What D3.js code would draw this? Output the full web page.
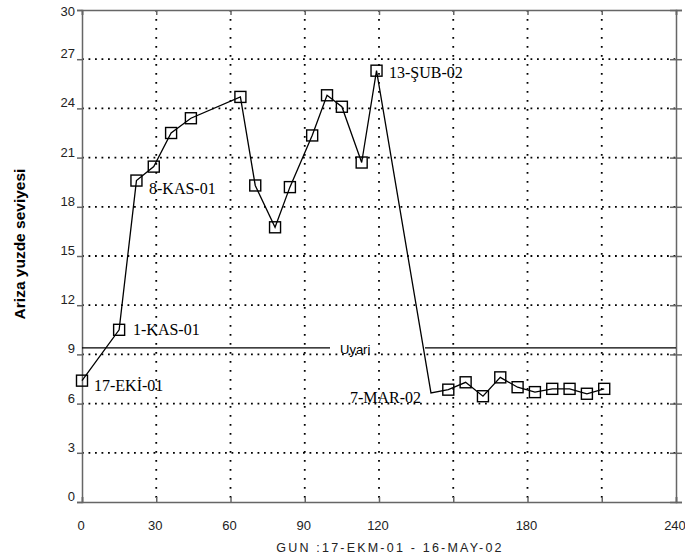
<!DOCTYPE html>
<html>
<head>
<meta charset="utf-8">
<script src="https://cdn.jsdelivr.net/npm/d3@7"></script>
<style>
  body { margin: 0; background: #fff; }
  svg { display: block; }
</style>
</head>
<body>
<script>
// gün (17-EKİ-01'den itibaren) ve arıza yüzdesi
const gunler = [0, 15, 22, 29, 36, 44, 64, 70, 78, 84, 93, 99, 105, 113, 119,
                141, 148, 155, 162, 169, 176, 183, 190, 197, 204, 211];
const degerler = [7.4, 10.5, 19.6, 20.45, 22.5, 23.4, 24.7, 19.3, 16.75, 19.2, 22.35, 24.8, 24.1, 20.7, 26.3,
                  6.65, 6.85, 7.3, 6.45, 7.6, 7.0, 6.7, 6.9, 6.9, 6.6, 6.9];
// işaretsiz noktalar
const isaretsiz = [141];
// notlar
const notGunleri = [0, 15, 22, 119, 141];
const notlar = ["17-EKİ-01", "1-KAS-01", "8-KAS-01", "13-ŞUB-02", "7-MAR-02"];
const uyariSeviyesi = 9.4;
const xTikler = [0, 30, 60, 90, 120, 150, 180, 210, 240];
const xEtiketler = ["0", "30", "60", "90", "120", "", "180", "", "240"];
const yTikler = d3.range(0, 31, 3);

const genislik = 685, yukseklik = 560;
const svg = d3.select('body')
  .append('svg')
  .attr('width', genislik)
  .attr('height', yukseklik);

const x = d3.scaleLinear().domain([0, 240]).range([82, 676]);
const y = d3.scaleLinear().domain([0, 30]).range([502, 10]);

// ızgara
svg.append('g')
  .selectAll('line')
  .data(yTikler.slice(1, -1))
  .join('line')
    .attr('x1', x(0)).attr('x2', x(240))
    .attr('y1', d => y(d)).attr('y2', d => y(d))
    .attr('stroke', '#000')
    .attr('stroke-width', 1.8)
    .attr('stroke-dasharray', '1.8,4.7');
svg.append('g')
  .selectAll('line')
  .data(xTikler.slice(1, -1))
  .join('line')
    .attr('x1', d => x(d)).attr('x2', d => x(d))
    .attr('y1', y(30)).attr('y2', y(0))
    .attr('stroke', '#000')
    .attr('stroke-width', 1.8)
    .attr('stroke-dasharray', '1.8,7.2');

// eksenler
const eksenSol = d3.axisLeft(y).tickValues(yTikler).tickSize(5).tickFormat('');
const eksenSag = d3.axisRight(y).tickValues(yTikler).tickSize(6).tickFormat('');
const eksenAlt = d3.axisBottom(x).tickValues(xTikler).tickSize(-5).tickFormat('');
const eksenUst = d3.axisTop(x).tickValues(xTikler).tickSize(-5).tickFormat('');

function boya(g) {
  g.selectAll('path, line').attr('stroke', '#666').attr('stroke-width', 1.5);
}
svg.append('g').attr('transform', `translate(${x(0)},0)`).call(eksenSol).call(boya);
svg.append('g').attr('transform', `translate(${x(240)},0)`).call(eksenSag).call(boya)
  .selectAll('.tick line').attr('x1', -6);
svg.append('g').attr('transform', `translate(0,${y(0)})`).call(eksenAlt).call(boya);
svg.append('g').attr('transform', `translate(0,${y(30)})`).call(eksenUst).call(boya);

// tik etiketleri
svg.append('g')
  .selectAll('text')
  .data(yTikler)
  .join('text')
    .attr('x', 75)
    .attr('y', d => Math.max(y(d) - 1, 16))
    .attr('text-anchor', 'end')
    .attr('font-family', 'Liberation Sans, Arial, sans-serif')
    .attr('font-size', 13)
    .attr('fill', '#222')
    .text(d => d);
svg.append('g')
  .selectAll('text')
  .data(xTikler)
  .join('text')
    .attr('x', d => x(d) - 1)
    .attr('y', 530)
    .attr('text-anchor', 'middle')
    .attr('font-family', 'Liberation Sans, Arial, sans-serif')
    .attr('font-size', 13)
    .attr('fill', '#222')
    .text((d, i) => xEtiketler[i]);

// uyarı çizgisi
svg.append('line')
  .attr('x1', x(0)).attr('x2', 330)
  .attr('y1', y(uyariSeviyesi)).attr('y2', y(uyariSeviyesi))
  .attr('stroke', '#000').attr('stroke-width', 1.2);
svg.append('line')
  .attr('x1', 425).attr('x2', x(240))
  .attr('y1', y(uyariSeviyesi)).attr('y2', y(uyariSeviyesi))
  .attr('stroke', '#000').attr('stroke-width', 1.2);
svg.append('text')
  .attr('x', 340)
  .attr('y', y(uyariSeviyesi) + 6)
  .attr('font-family', 'Liberation Sans, Arial, sans-serif')
  .attr('font-size', 13)
  .text('Uyari');

// veri çizgisi
const noktalar = gunler.map((g, i) => ({gun: g, deger: degerler[i]}));
const cizgi = d3.line().x(d => x(d.gun)).y(d => y(d.deger));
svg.append('path')
  .datum(noktalar)
  .attr('d', cizgi)
  .attr('fill', 'none')
  .attr('stroke', '#000')
  .attr('stroke-width', 1.3);

// kare işaretler
svg.append('g')
  .selectAll('rect')
  .data(noktalar.filter(d => !isaretsiz.includes(d.gun)))
  .join('rect')
    .attr('x', d => x(d.gun) - 5.5)
    .attr('y', d => y(d.deger) - 5.5)
    .attr('width', 11)
    .attr('height', 11)
    .attr('fill', 'none')
    .attr('stroke', '#000')
    .attr('stroke-width', 1.4);

// notlar
const notKonum = {
  0:   [94, 391],
  15:  [133, 335],
  22:  [149, 194],
  119: [389, 78],
  141: [350, 403]
};
svg.append('g')
  .selectAll('text')
  .data(notGunleri)
  .join('text')
    .attr('x', d => notKonum[d][0])
    .attr('y', d => notKonum[d][1])
    .attr('font-family', 'Liberation Serif, Times New Roman, serif')
    .attr('font-size', 16)
    .text((d, i) => notlar[i]);

// eksen başlıkları
svg.append('text')
  .attr('transform', 'translate(25,244) rotate(-90)')
  .attr('text-anchor', 'middle')
  .attr('font-family', 'Liberation Sans, Arial, sans-serif')
  .attr('font-weight', 'bold')
  .attr('font-size', 15.5)
  .text('Ariza yuzde seviyesi');
svg.append('text')
  .attr('x', 390)
  .attr('y', 552)
  .attr('text-anchor', 'middle')
  .attr('font-family', 'Liberation Sans, Arial, sans-serif')
  .attr('font-size', 12.5)
  .attr('letter-spacing', 2.2)
  .attr('fill', '#222')
  .text('GUN :17-EKM-01 - 16-MAY-02');
</script>
</body>
</html>
